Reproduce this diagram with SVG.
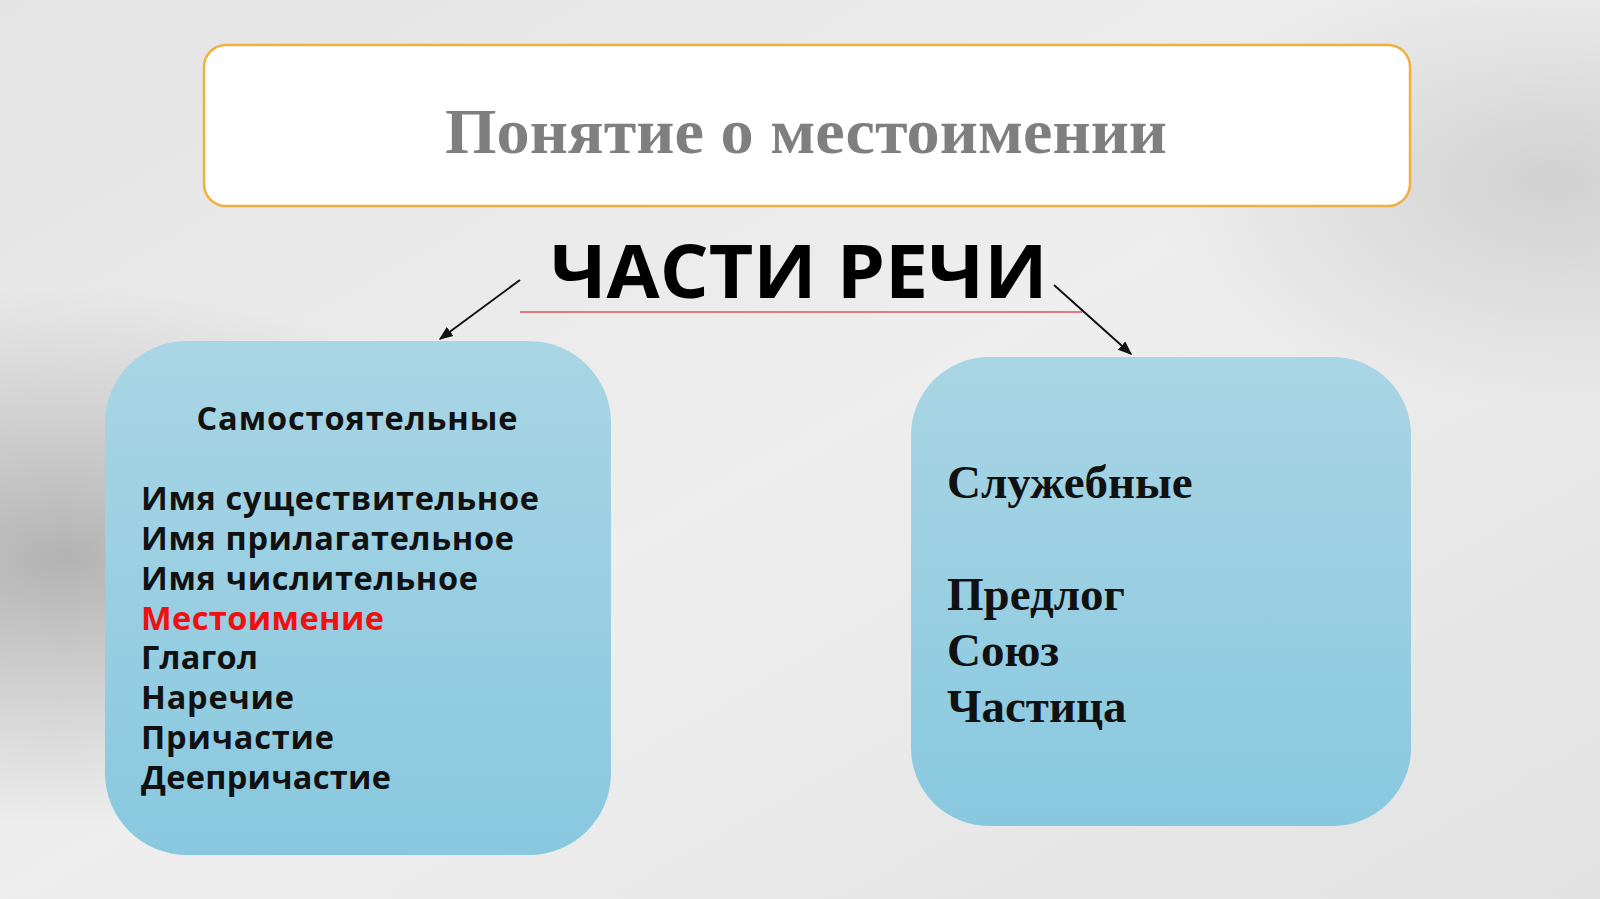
<svg xmlns="http://www.w3.org/2000/svg" width="1600" height="899" viewBox="0 0 1600 899">
  <defs>
    <linearGradient id="bg" x1="0" y1="0" x2="1" y2="1">
      <stop offset="0" stop-color="#e4e4e4"/>
      <stop offset="0.5" stop-color="#eeeeee"/>
      <stop offset="1" stop-color="#e2e2e2"/>
    </linearGradient>
    <radialGradient id="shadeL" cx="0.04" cy="0.62" r="0.3">
      <stop offset="0" stop-color="#a0a0a0" stop-opacity="0.75"/>
      <stop offset="1" stop-color="#a8a8a8" stop-opacity="0"/>
    </radialGradient>
    <radialGradient id="shadeR" cx="0.97" cy="0.2" r="0.25">
      <stop offset="0" stop-color="#c0c0c0" stop-opacity="0.6"/>
      <stop offset="1" stop-color="#c0c0c0" stop-opacity="0"/>
    </radialGradient>
    <linearGradient id="blue" x1="0" y1="0" x2="0" y2="1">
      <stop offset="0" stop-color="#a9d5e4"/>
      <stop offset="1" stop-color="#88c8df"/>
    </linearGradient>
    <marker id="arr" viewBox="0 0 10 10" refX="9" refY="5" markerWidth="7" markerHeight="7" orient="auto">
      <path d="M0,1 L10,5 L0,9 z" fill="#111"/>
    </marker>
    <style>
      .item{font-family:"Open Sans","DejaVu Sans",sans-serif;font-weight:700;font-size:32.5px;fill:#111}
      .serif{font-family:"Liberation Serif","Times New Roman",serif;font-weight:700;fill:#111;font-size:47px}
      .conn{stroke:#111;stroke-width:2;fill:none}
    </style>
  </defs>
  <rect width="1600" height="899" fill="url(#bg)"/>
  <rect width="1600" height="899" fill="url(#shadeL)"/>
  <rect width="1600" height="899" fill="url(#shadeR)"/>

  <g id="title">
    <rect x="204" y="45" width="1206" height="161" rx="22" fill="#ffffff" stroke="#f0b040" stroke-width="2.5"/>
    <text x="806" y="153" text-anchor="middle" font-family="Liberation Serif, 'Times New Roman', serif" font-weight="700" font-size="63" fill="#7f7f7f" textLength="722" lengthAdjust="spacingAndGlyphs">Понятие о местоимении</text>
  </g>

  <g id="heading">
    <text x="799" y="298" text-anchor="middle" font-family="'Open Sans','DejaVu Sans',sans-serif" font-weight="700" font-size="73" fill="#000" textLength="497" lengthAdjust="spacingAndGlyphs">ЧАСТИ РЕЧИ</text>
    <line x1="520" y1="312" x2="1082" y2="312" stroke="#e0505a" stroke-width="1.5"/>
  </g>

  <g id="connectors">
    <line class="conn" x1="520" y1="280" x2="440" y2="339" marker-end="url(#arr)"/>
    <line class="conn" x1="1054" y1="285" x2="1131" y2="354" marker-end="url(#arr)"/>
  </g>

  <g id="independent">
    <rect x="105" y="341" width="506" height="514" rx="82" fill="url(#blue)"/>
    <text class="item" x="357" y="430" text-anchor="middle" font-size="29.8" textLength="321" lengthAdjust="spacing">Самостоятельные</text>
    <text class="item" x="141" y="510" textLength="398" lengthAdjust="spacing">Имя существительное</text>
    <text class="item" x="141" y="550" textLength="373" lengthAdjust="spacing">Имя прилагательное</text>
    <text class="item" x="141" y="590" textLength="337" lengthAdjust="spacing">Имя числительное</text>
    <text class="item" x="141" y="630" style="fill:#ee1111" textLength="243" lengthAdjust="spacing">Местоимение</text>
    <text class="item" x="141" y="669" textLength="117" lengthAdjust="spacing">Глагол</text>
    <text class="item" x="141" y="709" textLength="153" lengthAdjust="spacing">Наречие</text>
    <text class="item" x="141" y="749" textLength="193" lengthAdjust="spacing">Причастие</text>
    <text class="item" x="141" y="789" textLength="250" lengthAdjust="spacing">Деепричастие</text>
  </g>

  <g id="auxiliary">
    <rect x="911" y="357" width="500" height="469" rx="78" fill="url(#blue)"/>
    <text class="serif" x="947" y="498">Служебные</text>
    <text class="serif" x="947" y="610">Предлог</text>
    <text class="serif" x="947" y="666">Союз</text>
    <text class="serif" x="947" y="722">Частица</text>
  </g>
</svg>
